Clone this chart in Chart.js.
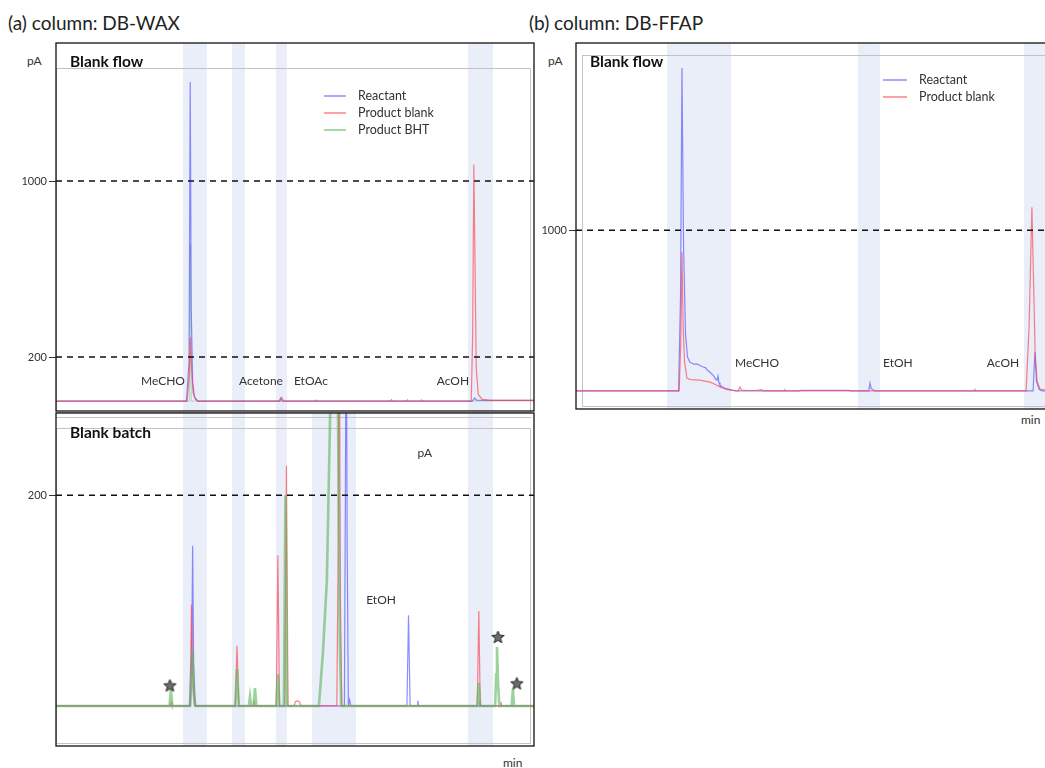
<!DOCTYPE html>
<html>
<head>
<meta charset="utf-8">
<script src="https://cdn.jsdelivr.net/npm/chart.js@4.4.0/dist/chart.umd.min.js"></script>
<style>
  html, body { margin: 0; padding: 0; background: #fff; overflow: hidden; }
  .wrap { position: relative; width: 1045px; height: 768px; overflow: hidden; font-family: Lato, sans-serif; color: #222; }
  canvas { position: absolute; }
  .txt { position: absolute; white-space: nowrap; line-height: 1; }
</style>
</head>
<body>
<div class="wrap">
  <div class="txt" style="left:8px;top:13px;font-size:19px">(a) column: DB-WAX</div>
  <div class="txt" style="left:529px;top:13px;font-size:19px">(b) column: DB-FFAP</div>
  <div class="txt" style="left:27px;top:55px;font-size:12px;color:#333">pA</div>
  <div class="txt" style="left:548px;top:55px;font-size:12px;color:#333">pA</div>
  <div class="txt" style="left:503px;top:757px;font-size:12px;color:#333">min</div>
  <div class="txt" style="left:1021px;top:414px;font-size:12px;color:#333">min</div>
  <canvas id="waxFlow" width="548" height="388" style="left:0;top:33px"></canvas>
  <canvas id="waxBatch" width="548" height="353" style="left:0;top:403px"></canvas>
  <canvas id="ffapFlow" width="600" height="388" style="left:520px;top:33px"></canvas>
</div>
<script>
// retention time axis (min) shared by all panels
const timeRange = [0, 24];
const seriesNames = ["Reactant", "Product blank", "Product BHT"];

// (a) DB-WAX, blank flow  -- [min, pA]
const waxFlowReactant = [[0,0],[6.55,0],[6.68,180],[6.74,1450],[6.79,420],[6.86,90],[6.95,20],[7.1,0],[11.2,0],[11.28,14],[11.36,0],[16.8,0],[16.85,6],[16.9,0],[17.6,0],[17.65,5],[17.7,0],[18.3,0],[18.35,5],[18.4,0],[20.9,0],[21.02,14],[21.12,4],[21.4,3],[24,3]];
const waxFlowBlank = [[0,0],[6.58,0],[6.7,120],[6.75,290],[6.8,160],[6.88,40],[7,8],[7.15,0],[11.25,0],[11.33,16],[11.43,0],[13,0],[13.06,5],[13.12,0],[20.85,0],[20.92,300],[20.98,1075],[21.04,620],[21.1,150],[21.2,30],[21.4,8],[21.8,3],[24,3]];
const waxFlowBHT = [[0,0],[6.71,0],[6.75,710],[6.79,0],[24,0]];
const waxFlowBands = [[6.38,7.58],[8.84,9.49],[11.04,11.6],[20.68,21.94]];
const waxFlowRefs = [200, 1000];
const waxFlowTicks = [200, 1000];
const waxFlowLabels = ["MeCHO", "Acetone", "EtOAc", "AcOH"];
const waxFlowLabelX = [5.37, 10.29, 12.8, 19.93];
const waxFlowLabelY = [91, 91, 91, 91];

// (a) DB-WAX, blank batch
const waxBatchReactant = [[0,0],[6.76,0],[6.82,60],[6.86,152],[6.91,40],[7,0],[14.48,0],[14.53,200],[14.57,400],[14.62,150],[14.68,0],[14.74,6],[14.8,0],[17.62,0],[17.7,86],[17.78,0],[18.13,0],[18.17,5],[18.21,0],[21.24,0],[21.28,4],[21.32,0],[24,0]];
const waxBatchBlank = [[0,0],[5.74,0],[5.78,3],[5.82,0],[6.7,0],[6.76,40],[6.8,96],[6.86,30],[6.95,0],[9,0],[9.09,57],[9.18,0],[9.9,0],[9.94,5],[9.98,0],[11.06,0],[11.14,143],[11.22,0],[11.49,0],[11.57,228],[11.65,0],[11.95,0],[12.02,4],[12.12,5],[12.22,4],[12.3,0],[14.1,0],[14.17,150],[14.22,400],[14.28,100],[14.35,0],[21.15,0],[21.23,90],[21.3,0],[22.3,0],[22.34,4],[22.38,0],[24,0]];
const waxBatchBHT = [[0,0],[5.7,0],[5.77,16],[5.84,0],[6.72,0],[6.8,25],[6.85,53],[6.92,10],[7,0],[9,0],[9.09,35],[9.18,0],[9.68,0],[9.74,9],[9.8,0],[9.92,0],[9.99,17],[10.06,0],[11.06,0],[11.14,30],[11.22,0],[11.44,0],[11.52,200],[11.6,0],[13.2,0],[13.4,50],[13.6,119],[13.75,263],[13.9,420],[14.05,460],[14.15,300],[14.25,60],[14.32,0],[21.15,0],[21.23,22],[21.3,0],[22.05,0],[22.1,30],[22.14,56],[22.2,20],[22.26,0],[22.88,0],[22.94,16],[23,0],[24,0]];
const waxBatchStarX = [5.72, 22.19, 23.14];
const waxBatchStarY = [19, 65, 21];
const waxBatchBands = [[6.38,7.58],[8.84,9.49],[11.04,11.6],[12.85,15.06],[20.68,21.94]];
const waxBatchRefs = [200];
const waxBatchTicks = [200];
const waxBatchLabels = ["EtOH", "pA"];
const waxBatchLabelX = [16.32, 18.52];
const waxBatchLabelY = [100, 240];

// (b) DB-FFAP, blank flow
const ffapFlowReactant = [[0,0],[5.15,0],[5.25,600],[5.32,2010],[5.4,900],[5.5,350],[5.6,210],[5.72,178],[5.85,170],[5.95,165],[6.05,168],[6.22,159],[6.35,150],[6.5,145],[6.6,128],[6.73,116],[6.9,95],[7,75],[7.08,66],[7.13,92],[7.18,50],[7.23,35],[7.45,18],[7.73,8],[8,0],[10.45,0],[10.49,6],[10.53,0],[11.2,0],[11.3,3],[13.7,3],[13.8,0],[14.7,0],[14.76,48],[14.82,15],[14.9,8],[15,0],[22.95,0],[23.04,240],[23.12,60],[23.25,10],[23.4,0],[24,0]];
const ffapFlowBlank = [[0,0],[5.18,0],[5.26,300],[5.32,862],[5.38,400],[5.45,180],[5.57,80],[5.75,70],[6.22,67],[6.73,54],[7,40],[7.25,23],[7.6,8],[7.9,2],[8.15,0],[8.23,23],[8.32,5],[8.5,3],[9,2],[9.34,8],[9.4,0],[20,0],[20.03,8],[20.08,0],[22.6,0],[22.75,400],[22.89,1142],[22.97,700],[23.05,250],[23.15,60],[23.3,10],[24,0]];
const ffapFlowBands = [[4.57,7.78],[14.16,15.26],[22.49,23.6]];
const ffapFlowRefs = [1000];
const ffapFlowTicks = [1000];
const ffapFlowLabels = ["MeCHO", "EtOH", "AcOH"];
const ffapFlowLabelX = [9.09, 16.16, 21.44];
const ffapFlowLabelY = [172, 172, 172];

const colors = {
  reactant: "rgba(80,80,255,0.65)",
  blank: "rgba(255,60,75,0.65)",
  bht: "rgba(40,160,50,0.55)"
};

function starImage(r) {
  const c = document.createElement("canvas");
  c.width = c.height = 2 * r + 2;
  const g = c.getContext("2d");
  g.beginPath();
  for (let i = 0; i < 10; i++) {
    const ang = -Math.PI / 2 + i * Math.PI / 5;
    const rr = i % 2 ? r * 0.45 : r;
    g.lineTo(r + 1 + rr * Math.cos(ang), r + 1 + rr * Math.sin(ang));
  }
  g.closePath();
  g.fillStyle = "#6a6a6a";
  g.fill();
  g.strokeStyle = "#2a2a2a";
  g.lineWidth = 1;
  g.stroke();
  return c;
}

const decor = {
  id: "decor",
  beforeDatasetsDraw(chart, args, o) {
    const { ctx, chartArea: a, scales: { x } } = chart;
    ctx.save();
    ctx.fillStyle = "#e9eef8";
    o.bands.forEach(([t0, t1]) => {
      const x0 = Math.max(x.getPixelForValue(t0), a.left);
      const x1 = Math.min(x.getPixelForValue(t1), a.right);
      ctx.fillRect(x0, a.top, x1 - x0, a.bottom - a.top);
    });
    ctx.strokeStyle = "#c3c3c3";
    ctx.lineWidth = 1;
    const f = o.frame;
    ctx.strokeRect(a.left + f.left + 0.5, a.top + f.top + 0.5,
      a.right - a.left - f.left - f.right - 1, a.bottom - a.top - f.top - f.bottom - 1);
    (o.extraLines || []).forEach(dy => {
      ctx.beginPath();
      ctx.moveTo(a.left, a.top + dy + 0.5);
      ctx.lineTo(a.right - f.right, a.top + dy + 0.5);
      ctx.stroke();
    });
    ctx.restore();
  },
  afterDatasetsDraw(chart, args, o) {
    const { ctx, chartArea: a, scales: { x, y } } = chart;
    ctx.save();
    ctx.fillStyle = "#333";
    ctx.font = "12px Lato";
    ctx.textAlign = "center";
    ctx.textBaseline = "middle";
    o.labels.forEach((txt, i) => {
      ctx.fillText(txt, x.getPixelForValue(o.labelX[i]), y.getPixelForValue(o.labelY[i]));
    });
    ctx.textAlign = "left";
    ctx.fillStyle = "#111";
    ctx.font = "bold 15.5px Lato";
    ctx.fillText(o.title, a.left + 14, a.top + o.titleDy);
    if (o.legend) {
      ctx.font = "12.5px Lato";
      ctx.fillStyle = "#333";
      chart.data.datasets.filter(d => seriesNames.includes(d.label)).forEach((d, i) => {
        const ly = a.top + o.legend.top + i * 17;
        ctx.strokeStyle = o.legend.colors[i];
        ctx.lineWidth = 1.5;
        ctx.beginPath();
        ctx.moveTo(a.left + o.legend.left, ly);
        ctx.lineTo(a.left + o.legend.left + o.legend.line, ly);
        ctx.stroke();
        ctx.fillText(d.label, a.left + o.legend.left + o.legend.line + 12, ly);
      });
    }
    ctx.strokeStyle = "#111";
    ctx.lineWidth = 1.3;
    ctx.strokeRect(a.left, a.top, a.right - a.left, a.bottom - a.top);
    ctx.restore();
  }
};

function toPoints(arr) {
  return arr.map(([px, py]) => ({ x: px, y: py }));
}

function makeChart(id, cfg) {
  const datasets = cfg.series.map(s => ({
    label: s.label,
    data: toPoints(s.data),
    borderColor: s.color,
    borderWidth: s.width || 1.2,
    pointRadius: 0,
    tension: 0,
    fill: false,
    order: s.order
  }));
  cfg.refs.forEach(v => {
    datasets.push({
      label: "ref" + v,
      data: [{ x: timeRange[0], y: v }, { x: timeRange[1], y: v }],
      borderColor: "#111",
      borderWidth: 1.5,
      borderDash: [6, 5],
      pointRadius: 0,
      order: -1
    });
  });
  if (cfg.stars) {
    datasets.push({
      label: "stars",
      data: cfg.stars[0].map((t, i) => ({ x: t, y: cfg.stars[1][i] })),
      showLine: false,
      pointStyle: starImage(6.5),
      pointRadius: 7,
      order: -2
    });
  }
  return new Chart(document.getElementById(id), {
    type: "line",
    data: { datasets },
    plugins: [decor],
    options: {
      responsive: false,
      animation: false,
      layout: { padding: cfg.padding },
      plugins: {
        legend: { display: false },
        tooltip: { enabled: false },
        decor: cfg.decor
      },
      scales: {
        x: { type: "linear", min: timeRange[0], max: timeRange[1], display: false },
        y: {
          type: "linear",
          min: cfg.yRange[0],
          max: cfg.yRange[1],
          afterFit: axis => { axis.width = 56; },
          afterBuildTicks: axis => { axis.ticks = cfg.ticks.map(v => ({ value: v })); },
          border: { display: false },
          grid: { drawOnChartArea: false, drawTicks: true, tickLength: 7, color: "#333" },
          ticks: { color: "#333", padding: 2, font: { family: "Lato", size: 11 }, callback: v => String(v) }
        }
      }
    }
  });
}

const legendColors = [colors.reactant, colors.blank, colors.bht];

makeChart("waxFlow", {
  series: [
    { label: seriesNames[0], data: waxFlowReactant, color: colors.reactant, order: 2 },
    { label: seriesNames[1], data: waxFlowBlank, color: colors.blank, order: 1 },
    { label: seriesNames[2], data: waxFlowBHT, color: "rgba(40,160,50,0.3)", width: 1, order: 3 }
  ],
  refs: waxFlowRefs,
  ticks: waxFlowTicks,
  yRange: [-45, 1627],
  padding: { top: 10, bottom: 10, left: 0, right: 14 },
  decor: {
    bands: waxFlowBands,
    frame: { left: 0, top: 25, right: 3, bottom: -2 },
    labels: waxFlowLabels, labelX: waxFlowLabelX, labelY: waxFlowLabelY,
    title: "Blank flow", titleDy: 19,
    legend: { left: 268, top: 53, line: 22, colors: legendColors }
  }
});

makeChart("waxBatch", {
  series: [
    { label: seriesNames[0], data: waxBatchReactant, color: colors.reactant, order: 3 },
    { label: seriesNames[1], data: waxBatchBlank, color: colors.blank, order: 2 },
    { label: seriesNames[2], data: waxBatchBHT, color: "rgba(90,180,90,0.6)", width: 2.6, order: 1 }
  ],
  refs: waxBatchRefs,
  ticks: waxBatchTicks,
  yRange: [-38, 278],
  stars: [waxBatchStarX, waxBatchStarY],
  padding: { top: 10, bottom: 10, left: 0, right: 14 },
  decor: {
    bands: waxBatchBands,
    frame: { left: 0, top: 15, right: 3, bottom: 2 },
    extraLines: [4],
    labels: waxBatchLabels, labelX: waxBatchLabelX, labelY: waxBatchLabelY,
    title: "Blank batch", titleDy: 20
  }
});

makeChart("ffapFlow", {
  series: [
    { label: seriesNames[0], data: ffapFlowReactant, color: colors.reactant, order: 2 },
    { label: seriesNames[1], data: ffapFlowBlank, color: colors.blank, order: 1 }
  ],
  refs: ffapFlowRefs,
  ticks: ffapFlowTicks,
  yRange: [-113, 2165],
  padding: { top: 10, bottom: 12, left: 0, right: 66 },
  decor: {
    bands: ffapFlowBands,
    frame: { left: 6, top: 12, right: -2, bottom: 2 },
    labels: ffapFlowLabels, labelX: ffapFlowLabelX, labelY: ffapFlowLabelY,
    title: "Blank flow", titleDy: 19,
    legend: { left: 307, top: 37, line: 24, colors: legendColors }
  }
});
</script>
</body>
</html>
